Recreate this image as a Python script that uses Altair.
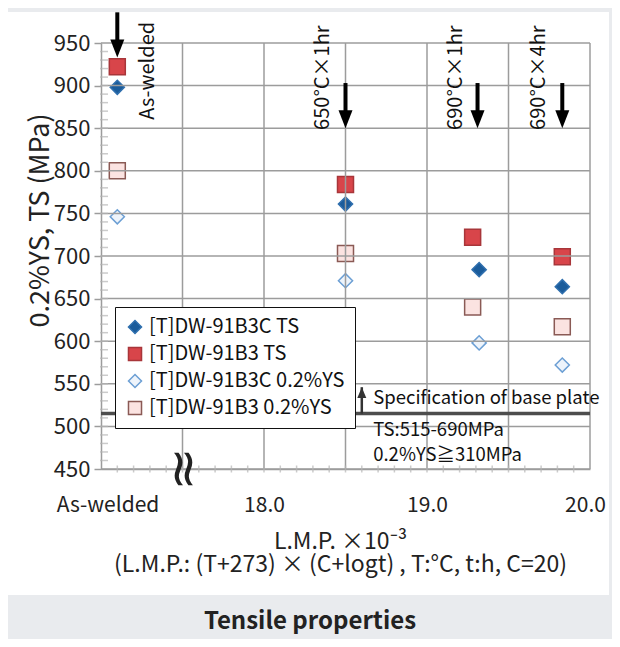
import altair as alt
import pandas as pd
import numpy as np

FONT = "Noto Sans CJK JP"

# ---- data ----
series_names = ["[T]DW-91B3C TS", "[T]DW-91B3 TS", "[T]DW-91B3C 0.2%YS", "[T]DW-91B3 0.2%YS"]
conditions = ["As-welded", "650°C×1hr", "690°C×1hr", "690°C×4hr"]
lmp_b3c = [17.10, 18.50, 19.32, 19.83]
lmp_b3 = [17.10, 18.50, 19.28, 19.83]
ts_b3c = [898, 761, 684, 664]
ts_b3 = [922, 784, 722, 699]
ys_b3c = [746, 671, 598, 572]
ys_b3 = [800, 703, 640, 617]

fills = ["#1b5c9b", "#d8454a", "#eef4fb", "#fbe3e1"]
strokes = ["#2f6fae", "#a8363a", "#6c9fd4", "#8a5a55"]
shapes = ["diamond", "square", "diamond", "square"]

x_tick_values = [17.04, 18.0, 19.0, 20.0]
x_grid_values = [17.5, 18.0, 18.5, 19.0, 19.5, 20.0]
y_tick_values = [450, 500, 550, 600, 650, 700, 750, 800, 850, 900, 950]
y_minor = list(range(460, 950, 10))
x_minor = [round(v, 1) for v in np.arange(17.1, 20.0, 0.1)]

arrow_x = [17.10, 18.50, 19.31, 19.83]
arrow_top = [986, 903, 903, 903]
arrow_tip = [933, 850, 850, 850]
label_x = [17.29, 18.36, 19.18, 19.69]
label_y = [860, 848, 848, 848]

spec_value = 515
spec_lines = ["Specification of base plate", "TS:515-690MPa", "0.2%YS≧310MPa"]
spec_text_y = [533, 496, 466]
spec_text_x = 18.67
spec_arrow_x = 18.60
spec_arrow_tip = 546

x_title = ["L.M.P. ×10⁻³", "(L.M.P.: (T+273) × (C+logt) , T:°C, t:h, C=20)"]
y_title = "0.2%YS, TS (MPa)"
caption = "Tensile properties"

W, H = 489, 426
xs = alt.Scale(domain=[17, 20], nice=False, zero=False)
ys = alt.Scale(domain=[450, 950], nice=False, zero=False)
GRID = "#9c9c9c"
GRAY_BG = "#e9ebee"

# ---- tables ----
diam = pd.DataFrame({
    "series": [series_names[0]] * 4 + [series_names[2]] * 4,
    "lmp": lmp_b3c + lmp_b3c,
    "mpa": ts_b3c + ys_b3c,
})
sq = pd.DataFrame({
    "series": [series_names[1]] * 4 + [series_names[3]] * 4,
    "lmp": lmp_b3 + lmp_b3,
    "mpa": ts_b3 + ys_b3,
})
arrows = pd.DataFrame({"x": arrow_x, "top": arrow_top, "tip": arrow_tip,
                       "shaft_end": [t + 10 for t in arrow_tip]})
labels = pd.DataFrame({"x": label_x, "y": label_y, "t": conditions})
spec_txt = pd.DataFrame({"x": [spec_text_x] * 3, "y": spec_text_y, "t": spec_lines})

xaxis = alt.Axis(
    values=x_tick_values, grid=False, ticks=False, domainColor=GRID, domainWidth=1.5,
    labelExpr="datum.value < 17.5 ? 'As-welded' : format(datum.value, '.1f')",
    labelFontSize=21, labelFont=FONT, labelColor="#222", labelPadding=25, labelFlush=False,
    labelOffset={"condition": {"test": "datum.value >= 20", "value": -5}, "value": 0},
    title=x_title, titleFont=FONT, titleFontSize=23, titleFontWeight="normal",
    titleColor="#222", titleX=239, titleY=61, titleBaseline="top", titleLineHeight=23)
yaxis = alt.Axis(
    values=y_tick_values, grid=False, domainColor=GRID,
    domainWidth=1.5, tickColor=GRID, tickWidth=1.5, tickSize=7, labelFontSize=22,
    labelFont=FONT, labelColor="#222", labelPadding=4, labelFlush=False,
    title=y_title, titleFont=FONT, titleFontSize=27, titleFontWeight="normal",
    titleColor="#222", titleX=-61, titleY=177, titleAngle=270, titleBaseline="middle",
    titleAlign="center")

X = lambda f: alt.X(f, scale=xs, axis=xaxis)
Y = lambda f: alt.Y(f, scale=ys, axis=yaxis)

def band(x0, x1, y0, y1):
    return alt.Chart(pd.DataFrame({"a": [0]})).mark_rect(color=GRAY_BG).encode(
        x=alt.value(x0), x2=alt.value(x1), y=alt.value(y0), y2=alt.value(y1))

bands = [band(-93, 511, -35, -31), band(508, 511, -35, 596), band(-93, 511, 552, 596)]

vgrid = alt.Chart(pd.DataFrame({"x": x_grid_values})).mark_rule(color=GRID, strokeWidth=1.5).encode(
    x=X("x:Q"))
hgrid = alt.Chart(pd.DataFrame({"y": y_tick_values})).mark_rule(color=GRID, strokeWidth=1.5).encode(
    y=Y("y:Q"))

ymin = alt.Chart(pd.DataFrame({"y": y_minor})).mark_tick(color="#b5b5b5", size=8, thickness=1.5).encode(
    y=Y("y:Q"), x=alt.value(3))
xmin = alt.Chart(pd.DataFrame({"x": x_minor})).mark_tick(color="#b5b5b5", size=7, thickness=1.5).encode(
    x=X("x:Q"), y=alt.value(H))

spec_line = alt.Chart(pd.DataFrame({"y": [spec_value]})).mark_rule(color="#4d4d4d", strokeWidth=3.5).encode(
    y=Y("y:Q"))

legend = alt.Legend(orient="none", legendX=14, legendY=264, title=None, fillColor="white",
                    strokeColor="#111", padding=10, labelFontSize=20, labelFont=FONT,
                    labelColor="#111", symbolSize=170, symbolStrokeWidth=1.5, rowPadding=7,
                    labelOffset=4, labelLimit=400)

def point_layer(df, size):
    return alt.Chart(df).mark_point(filled=True, opacity=1, strokeWidth=1.5, size=size).encode(
        x=X("lmp:Q"), y=Y("mpa:Q"),
        fill=alt.Fill("series:N", scale=alt.Scale(domain=series_names, range=fills), legend=legend),
        stroke=alt.Stroke("series:N", scale=alt.Scale(domain=series_names, range=strokes), legend=legend),
        shape=alt.Shape("series:N", scale=alt.Scale(domain=series_names, range=shapes), legend=legend),
    )

pts_sq = point_layer(sq, 256)
pts_dm = point_layer(diam, 200)

shafts = alt.Chart(arrows).mark_rule(color="black", strokeWidth=4).encode(
    x=X("x:Q"), y=Y("top:Q"), y2="shaft_end:Q")
heads = alt.Chart(arrows).mark_point(shape="M-0.7,-1.8L0.7,-1.8L0,0Z", filled=True, size=400,
                                     color="black", opacity=1).encode(x=X("x:Q"), y=Y("tip:Q"))

cond_text = alt.Chart(labels).mark_text(angle=270, align="left", baseline="middle", fontSize=20,
                                        font=FONT, color="#111").encode(
    x=X("x:Q"), y=Y("y:Q"), text="t:N")

spec_df = pd.DataFrame({"x": [spec_arrow_x], "y": [spec_value], "tip": [spec_arrow_tip]})
spec_shaft = alt.Chart(spec_df).mark_rule(color="#333", strokeWidth=2.5).encode(
    x=X("x:Q"), y=Y("y:Q"), y2="tip:Q")
spec_head = alt.Chart(spec_df).mark_point(shape="M-0.75,1.8L0.75,1.8L0,0Z", filled=True, size=144,
                                          color="#333", opacity=1).encode(x=X("x:Q"), y=Y("tip:Q"))
spec_text = alt.Chart(spec_txt).mark_text(align="left", baseline="middle", fontSize=18.5,
                                          font=FONT, color="#111").encode(
    x=X("x:Q"), y=Y("y:Q"), text="t:N")

brk = alt.Chart(pd.DataFrame({"x": [17.5], "y": [450], "t": ["≈"]})).mark_text(
    angle=90, fontSize=52, font="DejaVu Sans", color="#222", baseline="middle", align="center").encode(
    x=X("x:Q"), y=Y("y:Q"), text="t:N")

cap = alt.Chart(pd.DataFrame({"t": [caption]})).mark_text(
    fontSize=24, fontWeight="bold", font=FONT, color="#222", baseline="middle").encode(
    x=alt.value(209), y=alt.value(579), text="t:N")

chart = alt.layer(pts_sq, pts_dm, *bands, vgrid, hgrid, spec_line, ymin, xmin, shafts, heads,
                  cond_text, spec_shaft, spec_head, spec_text, brk, cap).properties(
    width=W, height=H, background="white", autosize="none",
    padding={"left": 93, "top": 35, "right": 22, "bottom": 170},
).configure_view(stroke=None)

chart.save("out.html", embed_options={"renderer": "svg", "actions": False})
